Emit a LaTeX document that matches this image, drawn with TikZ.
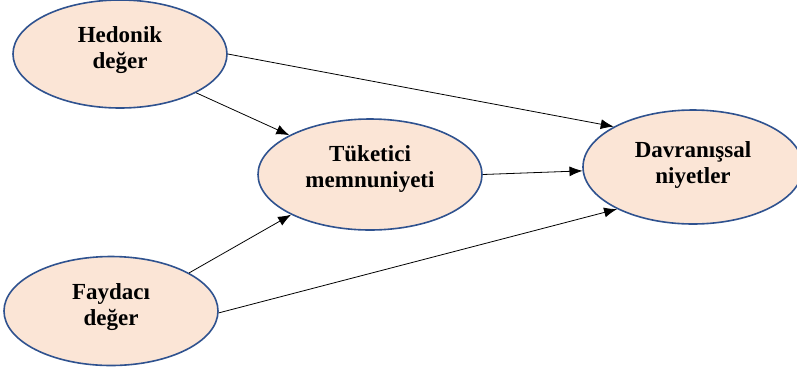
\documentclass[tikz,border=0pt]{standalone}
\usepackage{fontspec}
\setmainfont{Liberation Serif}
\usetikzlibrary{shapes.geometric,arrows.meta}
\definecolor{peach}{RGB}{251,229,214}
\definecolor{edgeblue}{RGB}{47,82,143}
\tikzset{
  construct/.style={ellipse,draw=edgeblue,fill=peach,line width=1.6pt,inner sep=0pt},
  label text/.style={font=\fontsize{23}{26}\selectfont\bfseries,align=center},
  link/.style={line width=0.8pt,-{Latex[length=13pt,width=10pt]}}
}
\begin{document}
\begin{tikzpicture}[x=1pt,y=-1pt]
\useasboundingbox (0,0) rectangle (797,373);
\node[construct,minimum width=214pt,minimum height=108pt] (hed) at (120,54) {};
\node[construct,minimum width=224pt,minimum height=111pt] (tuk) at (370,174.5) {};
\node[construct,minimum width=220pt,minimum height=114pt] (dav) at (693,167) {};
\node[construct,minimum width=214pt,minimum height=109pt] (fay) at (111,311) {};
\node[label text] (thed) at (120,50) {Hedonik\\değer};
\node[label text] (ttuk) at (370,169) {Tüketici\\memnuniyeti};
\node[label text] (tdav) at (693,165) {Davranışsal\\niyetler};
\node[label text] (tfay) at (111,307.5) {Faydacı\\değer};
\draw[link] (hed.east) -- (dav.153);
\draw[link] (hed.-27.5) -- (tuk.154);
\draw[link] (tuk.east) -- (dav.182);
\draw[link] (fay.26.9) -- (tuk.-153);
\draw[link] (fay.-1) -- (dav.-151);
\end{tikzpicture}
\end{document}
